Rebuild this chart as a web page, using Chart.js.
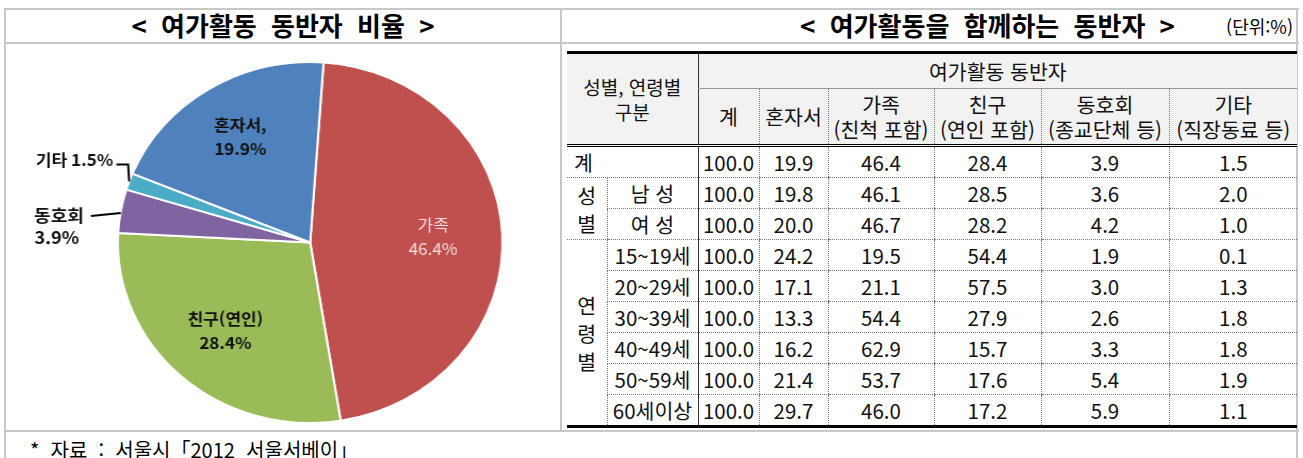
<!DOCTYPE html>
<html lang="ko">
<head>
<meta charset="utf-8">
<script src="https://cdn.jsdelivr.net/npm/chart.js@4.4.1/dist/chart.umd.min.js"></script>
<style>
  html, body { margin: 0; padding: 0; background: #fff; }
  body { width: 1303px; height: 458px; position: relative; overflow: hidden;
         font-family: "Noto Sans CJK KR", "Noto Sans", sans-serif; color: #000; }
  .line { position: absolute; background: #c8c8c8; }
  .title { position: absolute; top: 8px; height: 34px; line-height: 34px; font-size: 26px;
           font-weight: bold; text-align: center; white-space: pre; word-spacing: 7px; }
  .unit { position: absolute; top: 13px; right: 10px; font-size: 18px; line-height: 26px; }
  .source { position: absolute; left: 30px; top: 436px; font-size: 20px; line-height: 28px; white-space: pre; }

  #tbl { position: absolute; left: 567px; top: 51px; width: 730px; border-collapse: collapse;
         table-layout: fixed; font-size: 20.5px; border-top: 3px solid #000; border-bottom: 3px solid #000; }
  #tbl th, #tbl td { padding: 0; text-align: center; vertical-align: middle; font-weight: normal;
                     border-left: 1px dotted #777; border-bottom: 1px dotted #777; white-space: nowrap; color: #111; }
  #tbl thead th { background: #f2f2f2; line-height: 25px; }
  #tbl tr.h1 { height: 36px; }
  #tbl tr.h1 th.top { border-bottom: 1px solid #999; border-left: 1px solid #333; }
  #tbl tr.h2 { height: 57px; }
  #tbl tr.h2 th { border-bottom: 3px double #000; }
  #tbl tr.h2 th.c0 { border-left: 1px solid #333; }
  #tbl th.corner { border-left: none; border-bottom: 3px double #000; line-height: 25px; font-size: 19px; }
  #tbl tbody tr { height: 30px; }
  #tbl tbody tr:nth-child(even) { height: 31px; }
  #tbl td.c0 { border-left: 1px solid #333; }
  #tbl td.all { border-left: none; text-align: left; padding-left: 7px; }
  #tbl td.grp { border-left: none; line-height: 28px; }
</style>
</head>
<body>
<div class="line" style="left:4px;top:8px;width:1295px;height:2px"></div>
<div class="line" style="left:4px;top:42px;width:1295px;height:2px"></div>
<div class="line" style="left:4px;top:430px;width:1295px;height:2px"></div>
<div class="line" style="left:4px;top:8px;width:2px;height:450px"></div>
<div class="line" style="left:560px;top:8px;width:2px;height:424px"></div>
<div class="line" style="left:1296px;top:8px;width:2px;height:450px"></div>

<div class="title" style="left:6px;width:554px">&lt; 여가활동 동반자 비율 &gt;</div>
<div class="title" style="left:760px;width:455px">&lt; 여가활동을 함께하는 동반자 &gt;</div>
<div class="unit">(단위:%)</div>

<canvas id="pie" width="520" height="386" style="position:absolute;left:6px;top:44px;width:554px;height:386px"></canvas>

<table id="tbl">
  <colgroup>
    <col style="width:40px"><col style="width:91px"><col style="width:61px"><col style="width:69px">
    <col style="width:106px"><col style="width:107px"><col style="width:128px"><col style="width:128px">
  </colgroup>
  <thead id="thead"></thead>
  <tbody id="tbody"></tbody>
</table>

<div class="source">*  자료  :  서울시「2012  서울서베이」</div>

<script>
// row labels and one array per column of the table
const rowLabels = ['계', '남 성', '여 성', '15~19세', '20~29세', '30~39세', '40~49세', '50~59세', '60세이상'];
const totals  = [100.0, 100.0, 100.0, 100.0, 100.0, 100.0, 100.0, 100.0, 100.0];
const alone   = [19.9, 19.8, 20.0, 24.2, 17.1, 13.3, 16.2, 21.4, 29.7];
const family  = [46.4, 46.1, 46.7, 19.5, 21.1, 54.4, 62.9, 53.7, 46.0];
const friends = [28.4, 28.5, 28.2, 54.4, 57.5, 27.9, 15.7, 17.6, 17.2];
const clubs   = [3.9, 3.6, 4.2, 1.9, 3.0, 2.6, 3.3, 5.4, 5.9];
const others  = [1.5, 2.0, 1.0, 0.1, 1.3, 1.8, 1.8, 1.9, 1.1];

const columnHeads = ['계', '혼자서', '가족', '친구', '동호회', '기타'];
const columnNotes = ['', '', '(친척 포함)', '(연인 포함)', '(종교단체 등)', '(직장동료 등)'];
const groups = [{ name: '성별', start: 1, span: 2 }, { name: '연령별', start: 3, span: 6 }];

// pie: the "계" row
const pieNames  = ['가족', '친구(연인)', '동호회', '기타', '혼자서,'];
const pieValues = [family[0], friends[0], clubs[0], others[0], alone[0]];
const pieColors = ['#C0504D', '#9BBB59', '#8064A2', '#4BACC6', '#4F81BD'];

// ---- table ----
const series = [totals, alone, family, friends, clubs, others];
document.getElementById('thead').innerHTML =
  '<tr class="h1"><th class="corner" colspan="2" rowspan="2">성별, 연령별<br>구분</th>' +
  '<th class="top" colspan="6">여가활동 동반자</th></tr>' +
  '<tr class="h2">' + columnHeads.map((h, c) =>
    `<th class="${c === 0 ? 'c0' : ''}">${h}${columnNotes[c] ? '<br>' + columnNotes[c] : ''}</th>`).join('') + '</tr>';

let body = '';
rowLabels.forEach((label, r) => {
  let head = '';
  if (r === 0) {
    head = `<td class="all" colspan="2">${label}</td>`;
  } else {
    const g = groups.find(g => g.start === r);
    if (g) head += `<td class="grp" rowspan="${g.span}">${g.name.split('').join('<br>')}</td>`;
    head += `<td>${label}</td>`;
  }
  const cells = series.map((s, c) => `<td class="${c === 0 ? 'c0' : ''}">${s[r].toFixed(1)}</td>`).join('');
  body += `<tr>${head}${cells}</tr>`;
});
document.getElementById('tbody').innerHTML = body;

// ---- pie labels ----
const labelStyle = [
  { inside: true, r: 0.64, color: '#f5dede', weight: 'normal' },
  { inside: true, r: 0.66, color: '#111', weight: 'bold' },
  { inside: false, kind: 'below' },
  { inside: false, kind: 'elbow' },
  { inside: true, r: 0.69, color: '#111', weight: 'bold' }
];

const pieLabels = {
  id: 'pieLabels',
  afterDatasetsDraw(chart) {
    const ctx = chart.ctx;
    const arcs = chart.getDatasetMeta(0).data;
    ctx.save();
    ctx.textBaseline = 'middle';
    arcs.forEach((arc, i) => {
      const p = arc.getProps(['x', 'y', 'startAngle', 'endAngle', 'outerRadius'], true);
      const mid = (p.startAngle + p.endAngle) / 2;
      const st = labelStyle[i];
      const pct = pieValues[i].toFixed(1) + '%';
      if (st.inside) {
        const lx = p.x + Math.cos(mid) * p.outerRadius * st.r;
        const ly = p.y + Math.sin(mid) * p.outerRadius * st.r;
        ctx.font = `${st.weight} 16px "Noto Sans CJK KR"`;
        ctx.fillStyle = st.color;
        ctx.textAlign = 'center';
        ctx.fillText(pieNames[i], lx, ly - 12);
        ctx.fillText(pct, lx, ly + 12);
        return;
      }
      const ex = p.x + Math.cos(mid) * p.outerRadius;
      const ey = p.y + Math.sin(mid) * p.outerRadius;
      ctx.strokeStyle = '#000';
      ctx.lineWidth = 2;
      ctx.fillStyle = '#111';
      ctx.beginPath();
      if (st.kind === 'elbow') {
        ctx.font = 'bold 16px "Noto Sans CJK KR"';
        ctx.moveTo(ex, ey);
        ctx.lineTo(ex - 1, ey - 17);
        ctx.lineTo(ex - 12, ey - 17);
        ctx.stroke();
        ctx.textAlign = 'right';
        ctx.fillText(pieNames[i] + ' ' + pct, ex - 15, ey - 22);
      } else {
        ctx.font = 'bold 17px "Noto Sans CJK KR"';
        ctx.moveTo(ex, ey + 2);
        ctx.lineTo(ex - 28, ey + 5);
        ctx.stroke();
        ctx.textAlign = 'center';
        ctx.fillText(pieNames[i], ex - 58, ey + 4);
        ctx.fillText(pct, ex - 60, ey + 26);
      }
    });
    ctx.restore();
  }
};

new Chart(document.getElementById('pie'), {
  type: 'pie',
  data: {
    labels: pieNames,
    datasets: [{
      data: pieValues,
      backgroundColor: pieColors,
      borderColor: '#ffffff',
      borderWidth: 2,
      hoverOffset: 0
    }]
  },
  options: {
    responsive: false,
    animation: false,
    events: [],
    rotation: 4,
    layout: { padding: { left: 104, right: 53, top: 17, bottom: 6 } },
    plugins: {
      legend: { display: false },
      tooltip: { enabled: false }
    }
  },
  plugins: [pieLabels]
});
</script>
</body>
</html>
